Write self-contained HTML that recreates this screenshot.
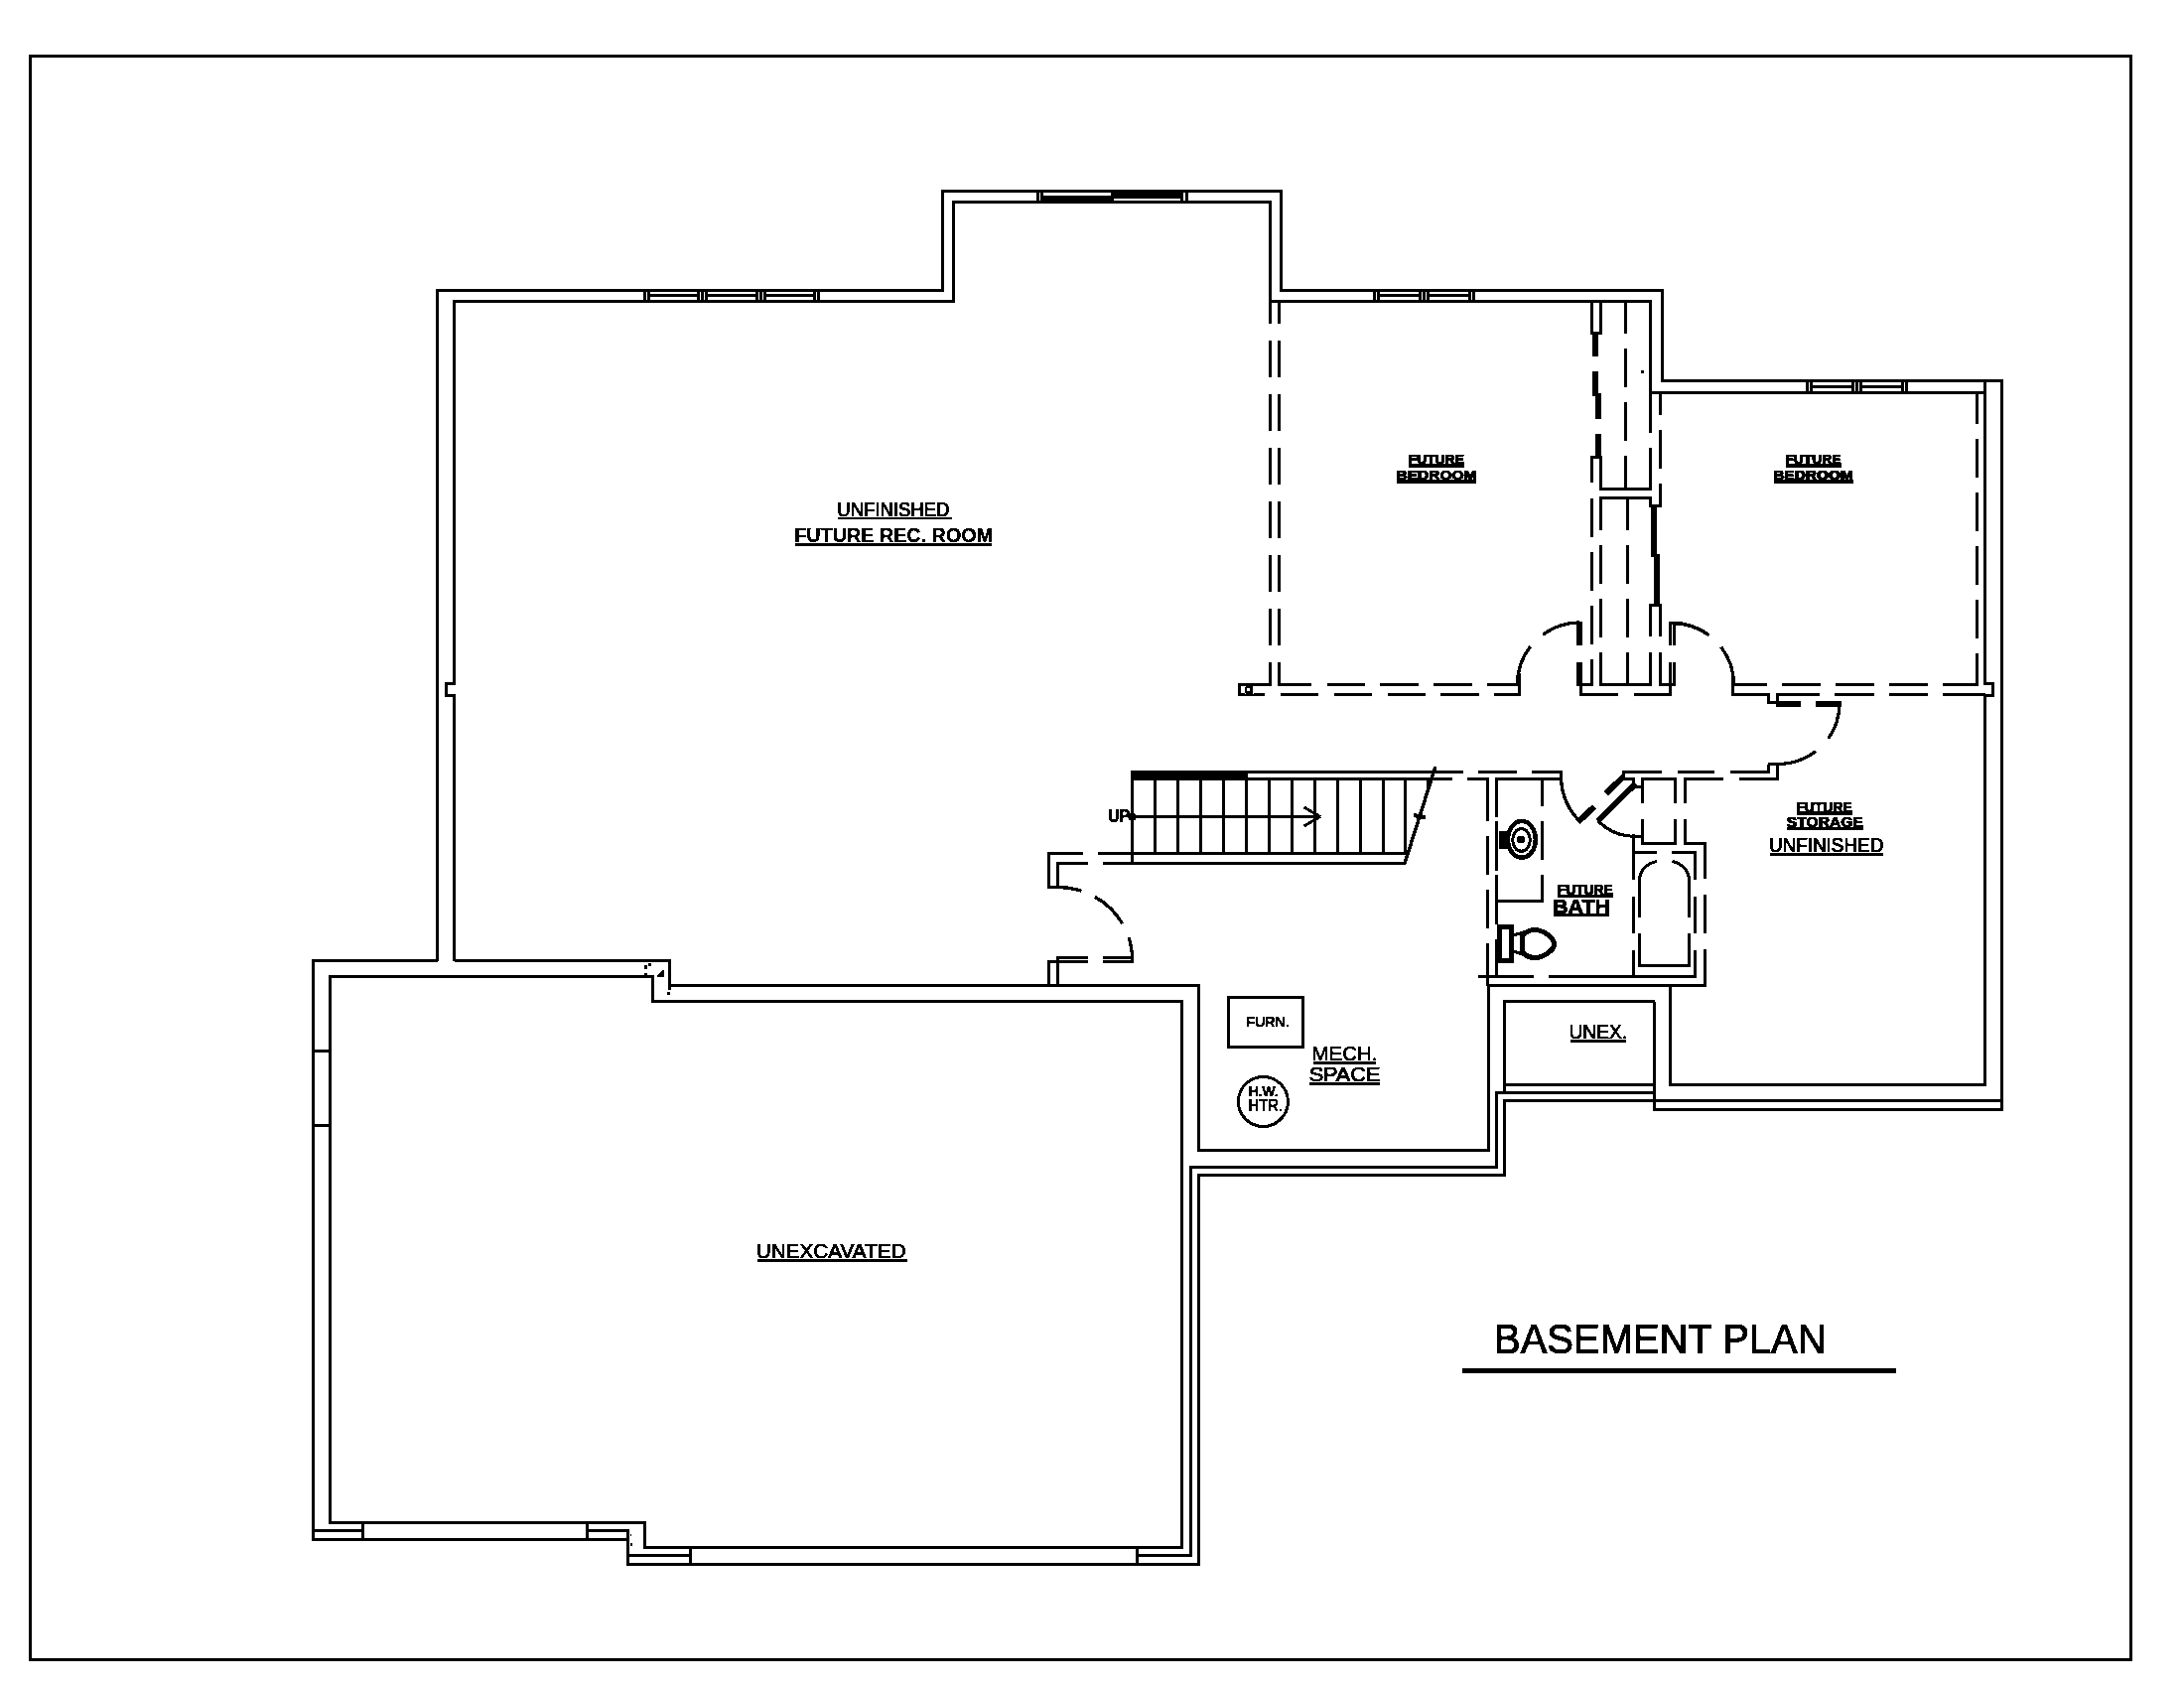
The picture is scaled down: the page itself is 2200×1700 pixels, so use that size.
<!DOCTYPE html>
<html><head><meta charset="utf-8"><title>Basement Plan</title>
<style>
html,body{margin:0;padding:0;background:#fff;}
body{width:2200px;height:1700px;overflow:hidden;font-family:"Liberation Sans",sans-serif;}
svg{display:block;position:absolute;left:0;top:0;}
</style></head><body>
<svg width="2200" height="1700" viewBox="0 0 2200 1700">
<defs><filter id="bin" x="0" y="0" width="2200" height="1700" filterUnits="userSpaceOnUse" color-interpolation-filters="sRGB"><feComponentTransfer><feFuncA type="discrete" tableValues="0 1"/></feComponentTransfer></filter></defs>
<rect x="0" y="0" width="2200" height="1700" fill="#fff"/>
<g fill="none" stroke="#000" stroke-width="3" stroke-linecap="butt" stroke-linejoin="miter" shape-rendering="crispEdges">
<path d="M30.5,56.5 L2146.5,56.5 L2146.5,1671.5 L30.5,1671.5 Z" stroke-width="3"/>
<path d="M440.5,967.5 L440.5,292.5 L949.5,292.5 L949.5,192.5 L1290.5,192.5 L1290.5,292.5 L1674.5,292.5 L1674.5,383.5 L2016.5,383.5 L2016.5,1117.5 L1666.5,1117.5 L1666.5,1008.5" stroke-width="3"/>
<path d="M457.5,967.5 L457.5,700.5 L449.5,700.5 L449.5,688.5 L457.5,688.5 L457.5,303.5 L960.5,303.5 L960.5,203.5 L1279.5,203.5 L1279.5,303.5 L1662.5,303.5 L1662.5,395.5" stroke-width="3"/>
<line x1="1662.5" y1="395.5" x2="1999.5" y2="395.5" stroke-width="3"/>
<path d="M1999.5,383.5 L1999.5,688.5 L2007.5,688.5 L2007.5,700.5 L1999.5,700.5 L1999.5,1092.5 L1682.5,1092.5 L1682.5,992.5" stroke-width="3"/>
<line x1="649.5" y1="292.5" x2="649.5" y2="303.5" stroke-width="3"/>
<line x1="653.5" y1="292.5" x2="653.5" y2="303.5" stroke-width="3"/>
<line x1="824.5" y1="292.5" x2="824.5" y2="303.5" stroke-width="3"/>
<line x1="820.5" y1="292.5" x2="820.5" y2="303.5" stroke-width="3"/>
<line x1="655" y1="297.5" x2="819" y2="297.5" stroke-width="3"/>
<line x1="703.5" y1="292.5" x2="703.5" y2="303.5" stroke-width="3"/>
<line x1="707.5" y1="292.5" x2="707.5" y2="303.5" stroke-width="3"/>
<line x1="711.5" y1="292.5" x2="711.5" y2="303.5" stroke-width="3"/>
<rect x="705.0" y="294.0" width="1.0" height="8.0" fill="#fff" stroke="none"/>
<rect x="709.0" y="294.0" width="1.0" height="8.0" fill="#fff" stroke="none"/>
<line x1="762.5" y1="292.5" x2="762.5" y2="303.5" stroke-width="3"/>
<line x1="766.5" y1="292.5" x2="766.5" y2="303.5" stroke-width="3"/>
<line x1="770.5" y1="292.5" x2="770.5" y2="303.5" stroke-width="3"/>
<rect x="764.0" y="294.0" width="1.0" height="8.0" fill="#fff" stroke="none"/>
<rect x="768.0" y="294.0" width="1.0" height="8.0" fill="#fff" stroke="none"/>
<rect x="651" y="294.0" width="1" height="8.0" fill="#fff" stroke="none"/>
<rect x="822" y="294.0" width="1" height="8.0" fill="#fff" stroke="none"/>
<line x1="1384.5" y1="292.5" x2="1384.5" y2="303.5" stroke-width="3"/>
<line x1="1388.5" y1="292.5" x2="1388.5" y2="303.5" stroke-width="3"/>
<line x1="1484.5" y1="292.5" x2="1484.5" y2="303.5" stroke-width="3"/>
<line x1="1480.5" y1="292.5" x2="1480.5" y2="303.5" stroke-width="3"/>
<line x1="1390" y1="297.5" x2="1479" y2="297.5" stroke-width="3"/>
<line x1="1430.5" y1="292.5" x2="1430.5" y2="303.5" stroke-width="3"/>
<line x1="1434.5" y1="292.5" x2="1434.5" y2="303.5" stroke-width="3"/>
<line x1="1438.5" y1="292.5" x2="1438.5" y2="303.5" stroke-width="3"/>
<rect x="1432.0" y="294.0" width="1.0" height="8.0" fill="#fff" stroke="none"/>
<rect x="1436.0" y="294.0" width="1.0" height="8.0" fill="#fff" stroke="none"/>
<rect x="1386" y="294.0" width="1" height="8.0" fill="#fff" stroke="none"/>
<rect x="1482" y="294.0" width="1" height="8.0" fill="#fff" stroke="none"/>
<line x1="1820.5" y1="383.5" x2="1820.5" y2="395.5" stroke-width="3"/>
<line x1="1824.5" y1="383.5" x2="1824.5" y2="395.5" stroke-width="3"/>
<line x1="1920.5" y1="383.5" x2="1920.5" y2="395.5" stroke-width="3"/>
<line x1="1916.5" y1="383.5" x2="1916.5" y2="395.5" stroke-width="3"/>
<line x1="1826" y1="389.5" x2="1915" y2="389.5" stroke-width="3"/>
<line x1="1866.5" y1="383.5" x2="1866.5" y2="395.5" stroke-width="3"/>
<line x1="1870.5" y1="383.5" x2="1870.5" y2="395.5" stroke-width="3"/>
<line x1="1874.5" y1="383.5" x2="1874.5" y2="395.5" stroke-width="3"/>
<rect x="1868.0" y="385.0" width="1.0" height="9.0" fill="#fff" stroke="none"/>
<rect x="1872.0" y="385.0" width="1.0" height="9.0" fill="#fff" stroke="none"/>
<rect x="1822" y="385.0" width="1" height="9.0" fill="#fff" stroke="none"/>
<rect x="1918" y="385.0" width="1" height="9.0" fill="#fff" stroke="none"/>
<line x1="1045.5" y1="192.5" x2="1045.5" y2="203.5" stroke-width="3"/>
<line x1="1049.5" y1="192.5" x2="1049.5" y2="203.5" stroke-width="3"/>
<line x1="1190.5" y1="192.5" x2="1190.5" y2="203.5" stroke-width="3"/>
<line x1="1195.5" y1="192.5" x2="1195.5" y2="203.5" stroke-width="3"/>
<rect x="1051" y="197" width="69" height="6" fill="#000" stroke="none"/>
<rect x="1119" y="193" width="70" height="7" fill="#000" stroke="none"/>
<rect x="1119" y="200" width="3" height="3" fill="#000" stroke="none"/>
<path d="M440.5,967.5 L315.5,967.5 L315.5,1550.5 L632.5,1550.5 L632.5,1575.5 L1207.5,1575.5 L1207.5,1183.5 L1515.5,1183.5 L1515.5,1108.5 L2016.5,1108.5" stroke-width="3"/>
<path d="M332.5,983.5 L657.5,983.5 L657.5,1008.5 L1190.5,1008.5 L1190.5,1558.5 L649.5,1558.5 L649.5,1533.5 L332.5,1533.5 Z" stroke-width="3"/>
<path d="M457.5,967.5 L674.5,967.5 L674.5,992.5 L1207.5,992.5 L1207.5,1158.5 L1499.5,1158.5 L1499.5,992.5" stroke-width="3"/>
<path d="M1145.5,1566.5 L1199.5,1566.5 L1199.5,1175.5 L1507.5,1175.5 L1507.5,1100.5 L1666.5,1100.5" stroke-width="3"/>
<line x1="1145.5" y1="1558.5" x2="1145.5" y2="1575.5" stroke-width="3"/>
<line x1="315.5" y1="1541.5" x2="365.5" y2="1541.5" stroke-width="3"/>
<line x1="365.5" y1="1533.5" x2="365.5" y2="1550.5" stroke-width="3"/>
<line x1="591.5" y1="1533.5" x2="591.5" y2="1550.5" stroke-width="3"/>
<path d="M591.5,1541.5 L632.5,1541.5 L632.5,1550.5" stroke-width="3"/>
<line x1="632.5" y1="1566.5" x2="695.5" y2="1566.5" stroke-width="3"/>
<line x1="695.5" y1="1558.5" x2="695.5" y2="1575.5" stroke-width="3"/>
<line x1="315.5" y1="1058.5" x2="332.5" y2="1058.5" stroke-width="3"/>
<line x1="315.5" y1="1133.5" x2="332.5" y2="1133.5" stroke-width="3"/>
<path d="M1515.5,1100.5 L1515.5,1008.5 L1666.5,1008.5" stroke-width="3"/>
<line x1="1515.5" y1="1092.5" x2="1666.5" y2="1092.5" stroke-width="3"/>
<line x1="1498" y1="992.5" x2="1719" y2="992.5" stroke-width="3"/>
<path d="M1237.5,1004.5 L1312.5,1004.5 L1312.5,1054.5 L1237.5,1054.5 Z" stroke-width="3"/>
<line x1="1140.5" y1="776" x2="1140.5" y2="871" stroke-width="3"/>
<rect x="1139" y="776" width="118" height="10" fill="#000" stroke="none"/>
<line x1="1257" y1="777.5" x2="1474" y2="777.5" stroke-width="3"/>
<line x1="1257" y1="784.5" x2="1463" y2="784.5" stroke-width="3"/>
<line x1="1163.5" y1="784.5" x2="1163.5" y2="859.5" stroke-width="3"/>
<line x1="1186.5" y1="784.5" x2="1186.5" y2="859.5" stroke-width="3"/>
<line x1="1209.5" y1="784.5" x2="1209.5" y2="859.5" stroke-width="3"/>
<line x1="1232.5" y1="784.5" x2="1232.5" y2="859.5" stroke-width="3"/>
<line x1="1255.5" y1="784.5" x2="1255.5" y2="859.5" stroke-width="3"/>
<line x1="1278.5" y1="784.5" x2="1278.5" y2="859.5" stroke-width="3"/>
<line x1="1301.5" y1="784.5" x2="1301.5" y2="859.5" stroke-width="3"/>
<line x1="1324.5" y1="784.5" x2="1324.5" y2="859.5" stroke-width="3"/>
<line x1="1347.5" y1="784.5" x2="1347.5" y2="859.5" stroke-width="3"/>
<line x1="1370.5" y1="784.5" x2="1370.5" y2="859.5" stroke-width="3"/>
<line x1="1393.5" y1="784.5" x2="1393.5" y2="859.5" stroke-width="3"/>
<line x1="1415.5" y1="784.5" x2="1415.5" y2="859.5" stroke-width="3"/>
<line x1="1106" y1="859.5" x2="1416" y2="859.5" stroke-width="3"/>
<line x1="1111" y1="869.5" x2="1415" y2="869.5" stroke-width="3"/>
<line x1="1140.5" y1="822.5" x2="1329" y2="822.5" stroke-width="3"/>
<path d="M1091,859.5 L1056.5,859.5 L1056.5,893.5 L1066,893.5" stroke-width="3"/>
<path d="M1096,869.5 L1065.5,869.5 L1065.5,893.5" stroke-width="3"/>
<path d="M1096,964.5 L1065.5,964.5 L1065.5,992.5" stroke-width="3"/>
<path d="M1096,968.5 L1056.5,968.5 L1056.5,992.5" stroke-width="3"/>
<line x1="1111" y1="964.5" x2="1142" y2="964.5" stroke-width="3"/>
<line x1="1111" y1="968.5" x2="1142" y2="968.5" stroke-width="3"/>
<line x1="1140.5" y1="960" x2="1140.5" y2="970" stroke-width="3"/>
<line x1="1279.5" y1="303.5" x2="1279.5" y2="326.4" stroke-width="3"/>
<line x1="1279.5" y1="342.6" x2="1279.5" y2="380.4" stroke-width="3"/>
<line x1="1279.5" y1="396.6" x2="1279.5" y2="434.4" stroke-width="3"/>
<line x1="1279.5" y1="450.6" x2="1279.5" y2="488.4" stroke-width="3"/>
<line x1="1279.5" y1="504.6" x2="1279.5" y2="542.4" stroke-width="3"/>
<line x1="1279.5" y1="558.6" x2="1279.5" y2="596.4" stroke-width="3"/>
<line x1="1279.5" y1="612.6" x2="1279.5" y2="650.4" stroke-width="3"/>
<line x1="1279.5" y1="666.6" x2="1279.5" y2="689.5" stroke-width="3"/>
<line x1="1288.5" y1="303.5" x2="1288.5" y2="326.4" stroke-width="3"/>
<line x1="1288.5" y1="342.6" x2="1288.5" y2="380.4" stroke-width="3"/>
<line x1="1288.5" y1="396.6" x2="1288.5" y2="434.4" stroke-width="3"/>
<line x1="1288.5" y1="450.6" x2="1288.5" y2="488.4" stroke-width="3"/>
<line x1="1288.5" y1="504.6" x2="1288.5" y2="542.4" stroke-width="3"/>
<line x1="1288.5" y1="558.6" x2="1288.5" y2="596.4" stroke-width="3"/>
<line x1="1288.5" y1="612.6" x2="1288.5" y2="650.4" stroke-width="3"/>
<line x1="1288.5" y1="666.6" x2="1288.5" y2="689.5" stroke-width="3"/>
<line x1="1247" y1="689.5" x2="1281" y2="689.5" stroke-width="3"/>
<line x1="1287" y1="689.5" x2="1320.8" y2="689.5" stroke-width="3"/>
<line x1="1336.5" y1="689.5" x2="1374.8" y2="689.5" stroke-width="3"/>
<line x1="1390.4" y1="689.5" x2="1428.7" y2="689.5" stroke-width="3"/>
<line x1="1444.3" y1="689.5" x2="1482.7" y2="689.5" stroke-width="3"/>
<line x1="1498.3" y1="689.5" x2="1532" y2="689.5" stroke-width="3"/>
<line x1="1247" y1="699.5" x2="1273.9" y2="699.5" stroke-width="3"/>
<line x1="1289.6" y1="699.5" x2="1327.9" y2="699.5" stroke-width="3"/>
<line x1="1343.6" y1="699.5" x2="1381.9" y2="699.5" stroke-width="3"/>
<line x1="1397.5" y1="699.5" x2="1435.8" y2="699.5" stroke-width="3"/>
<line x1="1451.4" y1="699.5" x2="1489.8" y2="699.5" stroke-width="3"/>
<line x1="1505.4" y1="699.5" x2="1532" y2="699.5" stroke-width="3"/>
<line x1="1248.5" y1="688" x2="1248.5" y2="701" stroke-width="3"/>
<rect x="1254" y="691" width="8" height="7" fill="#000" stroke="none"/>
<rect x="1256" y="693" width="3" height="3" fill="#fff" stroke="none"/>
<rect x="1253.5" y="690.5" width="1.0" height="1.0" fill="#fff" stroke="none"/>
<rect x="1261.5" y="690.5" width="1.0" height="1.0" fill="#fff" stroke="none"/>
<rect x="1253.5" y="697.5" width="1.0" height="1.0" fill="#fff" stroke="none"/>
<rect x="1261.5" y="697.5" width="1.0" height="1.0" fill="#fff" stroke="none"/>
<line x1="1530.5" y1="678" x2="1530.5" y2="701" stroke-width="3"/>
<path d="M1603.5,303.5 L1603.5,335.5 L1612.5,335.5 L1612.5,303.5" stroke-width="3"/>
<line x1="1607" y1="337" x2="1607" y2="358.6" stroke-width="6"/>
<line x1="1607" y1="374.2" x2="1607" y2="398.9" stroke-width="6"/>
<line x1="1610" y1="396.3" x2="1610" y2="421.5" stroke-width="6"/>
<line x1="1610" y1="437.1" x2="1610" y2="459.3" stroke-width="6"/>
<path d="M1603.5,486.4 L1603.5,460.5 L1612.5,460.5 L1612.5,492.5" stroke-width="3"/>
<line x1="1611" y1="492.5" x2="1664" y2="492.5" stroke-width="3"/>
<path d="M1612.5,533.7 L1612.5,501.5 L1662.5,501.5 L1662.5,509.5 L1672.5,509.5 L1672.5,486.8" stroke-width="3"/>
<line x1="1637.5" y1="303.5" x2="1637.5" y2="335.8" stroke-width="3"/>
<line x1="1637.5" y1="351" x2="1637.5" y2="389.8" stroke-width="3"/>
<line x1="1637.5" y1="405" x2="1637.5" y2="443.8" stroke-width="3"/>
<line x1="1637.5" y1="459" x2="1637.5" y2="492.5" stroke-width="3"/>
<line x1="1639.5" y1="501.5" x2="1639.5" y2="533.5" stroke-width="3"/>
<line x1="1639.5" y1="548.9" x2="1639.5" y2="587.5" stroke-width="3"/>
<line x1="1639.5" y1="602.9" x2="1639.5" y2="641.5" stroke-width="3"/>
<line x1="1639.5" y1="656.9" x2="1639.5" y2="690.5" stroke-width="3"/>
<line x1="1662.5" y1="395.5" x2="1662.5" y2="435.6" stroke-width="3"/>
<line x1="1662.5" y1="450.8" x2="1662.5" y2="492.5" stroke-width="3"/>
<line x1="1672.5" y1="397" x2="1672.5" y2="417.7" stroke-width="3"/>
<line x1="1672.5" y1="433" x2="1672.5" y2="471.7" stroke-width="3"/>
<line x1="1603.5" y1="502" x2="1603.5" y2="540.9" stroke-width="3"/>
<line x1="1603.5" y1="556" x2="1603.5" y2="594.9" stroke-width="3"/>
<line x1="1603.5" y1="610" x2="1603.5" y2="648.9" stroke-width="3"/>
<line x1="1603.5" y1="664" x2="1603.5" y2="690.5" stroke-width="3"/>
<line x1="1612.5" y1="548.9" x2="1612.5" y2="587.5" stroke-width="3"/>
<line x1="1612.5" y1="602.9" x2="1612.5" y2="641.5" stroke-width="3"/>
<line x1="1612.5" y1="656.9" x2="1612.5" y2="690.5" stroke-width="3"/>
<line x1="1666" y1="509.5" x2="1666" y2="560.8" stroke-width="6"/>
<line x1="1669" y1="558" x2="1669" y2="609.5" stroke-width="6"/>
<path d="M1662.5,641.3 L1662.5,609.5 L1672.5,609.5 L1672.5,641.3" stroke-width="3"/>
<line x1="1662.5" y1="657.3" x2="1662.5" y2="690.5" stroke-width="3"/>
<line x1="1672.5" y1="657.3" x2="1672.5" y2="690.5" stroke-width="3"/>
<line x1="1591" y1="689.5" x2="1604.5" y2="689.5" stroke-width="3"/>
<line x1="1611.5" y1="689.5" x2="1664" y2="689.5" stroke-width="3"/>
<line x1="1671.5" y1="689.5" x2="1688" y2="689.5" stroke-width="3"/>
<line x1="1591.5" y1="699.5" x2="1629.5" y2="699.5" stroke-width="3"/>
<line x1="1645.5" y1="699.5" x2="1683.5" y2="699.5" stroke-width="3"/>
<line x1="1592.5" y1="689.5" x2="1592.5" y2="701" stroke-width="3"/>
<line x1="1682.5" y1="689.5" x2="1682.5" y2="701" stroke-width="3"/>
<rect x="1653" y="373" width="3" height="3" fill="#000" stroke="none"/>
<line x1="1591" y1="626.5" x2="1591" y2="650.3" stroke-width="6"/>
<line x1="1591" y1="666.9" x2="1591" y2="690.5" stroke-width="6"/>
<line x1="1582" y1="627.5" x2="1594" y2="627.5" stroke-width="3"/>
<line x1="1682.5" y1="626.5" x2="1682.5" y2="650.3" stroke-width="3"/>
<line x1="1682.5" y1="666.9" x2="1682.5" y2="690.5" stroke-width="3"/>
<line x1="1686.5" y1="626.5" x2="1686.5" y2="650.3" stroke-width="3"/>
<line x1="1686.5" y1="666.9" x2="1686.5" y2="690.5" stroke-width="3"/>
<line x1="1681" y1="627.5" x2="1689" y2="627.5" stroke-width="3"/>
<line x1="1745.5" y1="678" x2="1745.5" y2="701" stroke-width="3"/>
<line x1="1991.5" y1="397" x2="1991.5" y2="427" stroke-width="3"/>
<line x1="1991.5" y1="442" x2="1991.5" y2="481" stroke-width="3"/>
<line x1="1991.5" y1="496" x2="1991.5" y2="535" stroke-width="3"/>
<line x1="1991.5" y1="550" x2="1991.5" y2="589" stroke-width="3"/>
<line x1="1991.5" y1="604" x2="1991.5" y2="643" stroke-width="3"/>
<line x1="1991.5" y1="658" x2="1991.5" y2="690.5" stroke-width="3"/>
<line x1="1745.5" y1="689.5" x2="1780" y2="689.5" stroke-width="3"/>
<line x1="1795" y1="689.5" x2="1834" y2="689.5" stroke-width="3"/>
<line x1="1849.3" y1="689.5" x2="1888" y2="689.5" stroke-width="3"/>
<line x1="1903" y1="689.5" x2="1942" y2="689.5" stroke-width="3"/>
<line x1="1957" y1="689.5" x2="1993" y2="689.5" stroke-width="3"/>
<path d="M1744,699.5 L1781.5,699.5 L1781.5,707.5 L1790.5,707.5" stroke-width="3"/>
<path d="M1790.5,712 L1790.5,699.5 L1832.8,699.5" stroke-width="3"/>
<line x1="1848.2" y1="699.5" x2="1888" y2="699.5" stroke-width="3"/>
<line x1="1903" y1="699.5" x2="1941.7" y2="699.5" stroke-width="3"/>
<line x1="1957" y1="699.5" x2="2000" y2="699.5" stroke-width="3"/>
<line x1="1789.5" y1="709" x2="1814" y2="709" stroke-width="6"/>
<line x1="1829" y1="709" x2="1854.7" y2="709" stroke-width="6"/>
<path d="M1780.5,769.5 L1791.6,769.5" stroke-width="3"/>
<path d="M1743,777.5 L1781.5,777.5 L1781.5,769.5" stroke-width="3"/>
<path d="M1751.6,784.5 L1790.5,784.5 L1790.5,769.5" stroke-width="3"/>
<line x1="1489.2" y1="777.5" x2="1528" y2="777.5" stroke-width="3"/>
<line x1="1543.1" y1="777.5" x2="1574" y2="777.5" stroke-width="3"/>
<line x1="1634" y1="777.5" x2="1673.6" y2="777.5" stroke-width="3"/>
<line x1="1689.6" y1="777.5" x2="1727.3" y2="777.5" stroke-width="3"/>
<line x1="1478.1" y1="784.5" x2="1500" y2="784.5" stroke-width="3"/>
<line x1="1506" y1="784.5" x2="1572.5" y2="784.5" stroke-width="3"/>
<line x1="1636.3" y1="784.5" x2="1647" y2="784.5" stroke-width="3"/>
<line x1="1653" y1="784.5" x2="1688.8" y2="784.5" stroke-width="3"/>
<line x1="1697" y1="784.5" x2="1735.5" y2="784.5" stroke-width="3"/>
<line x1="1498.5" y1="783" x2="1498.5" y2="826.8" stroke-width="3"/>
<line x1="1498.5" y1="842.2" x2="1498.5" y2="880.9" stroke-width="3"/>
<line x1="1498.5" y1="896.2" x2="1498.5" y2="934.7" stroke-width="3"/>
<line x1="1498.5" y1="950.1" x2="1498.5" y2="992.5" stroke-width="3"/>
<line x1="1507.5" y1="783" x2="1507.5" y2="822.8" stroke-width="3"/>
<line x1="1507.5" y1="826.8" x2="1507.5" y2="877.1" stroke-width="3"/>
<line x1="1507.5" y1="881.1" x2="1507.5" y2="930.6" stroke-width="3"/>
<line x1="1507.5" y1="946" x2="1507.5" y2="983.5" stroke-width="3"/>
<line x1="1553.5" y1="786" x2="1553.5" y2="811.9" stroke-width="3"/>
<line x1="1553.5" y1="826.8" x2="1553.5" y2="865.9" stroke-width="3"/>
<line x1="1553.5" y1="881.1" x2="1553.5" y2="907.5" stroke-width="3"/>
<line x1="1506" y1="907.5" x2="1555" y2="907.5" stroke-width="3"/>
<path d="M1572.5,776 L1572.5,786" stroke-width="3"/>
<path d="M1635.5,776 L1635.5,784.5" stroke-width="3"/>
<path d="M1645.5,784.5 L1645.5,792.5 L1654,792.5" stroke-width="3"/>
<line x1="1644" y1="842.5" x2="1654" y2="842.5" stroke-width="3"/>
<line x1="1654.5" y1="783" x2="1654.5" y2="809.4" stroke-width="3"/>
<line x1="1654.5" y1="825" x2="1654.5" y2="850.7" stroke-width="3"/>
<line x1="1687.5" y1="783" x2="1687.5" y2="809.4" stroke-width="3"/>
<line x1="1687.5" y1="825" x2="1687.5" y2="850.7" stroke-width="3"/>
<line x1="1653" y1="849.5" x2="1689" y2="849.5" stroke-width="3"/>
<line x1="1697.5" y1="783" x2="1697.5" y2="809.4" stroke-width="3"/>
<line x1="1697.5" y1="825" x2="1697.5" y2="850.7" stroke-width="3"/>
<line x1="1696" y1="849.5" x2="1719" y2="849.5" stroke-width="3"/>
<line x1="1717.5" y1="849.5" x2="1717.5" y2="884.8" stroke-width="3"/>
<line x1="1717.5" y1="901" x2="1717.5" y2="939.5" stroke-width="3"/>
<line x1="1717.5" y1="955.8" x2="1717.5" y2="992.5" stroke-width="3"/>
<line x1="1645.5" y1="840" x2="1645.5" y2="886.2" stroke-width="3"/>
<line x1="1645.5" y1="902.5" x2="1645.5" y2="940.3" stroke-width="3"/>
<line x1="1645.5" y1="956.6" x2="1645.5" y2="984" stroke-width="3"/>
<line x1="1645.5" y1="858.5" x2="1669" y2="858.5" stroke-width="3"/>
<line x1="1684.4" y1="858.5" x2="1709" y2="858.5" stroke-width="3"/>
<line x1="1707.5" y1="858.5" x2="1707.5" y2="886" stroke-width="3"/>
<line x1="1707.5" y1="902.5" x2="1707.5" y2="940.3" stroke-width="3"/>
<line x1="1707.5" y1="956.6" x2="1707.5" y2="984" stroke-width="3"/>
<line x1="1489.2" y1="983.5" x2="1545.3" y2="983.5" stroke-width="3"/>
<line x1="1559.6" y1="983.5" x2="1709" y2="983.5" stroke-width="3"/>
<line x1="1651.5" y1="886.2" x2="1651.5" y2="924" stroke-width="3"/>
<line x1="1651.5" y1="940.3" x2="1651.5" y2="973" stroke-width="3"/>
<line x1="1701.5" y1="886.2" x2="1701.5" y2="924" stroke-width="3"/>
<line x1="1701.5" y1="940.3" x2="1701.5" y2="973" stroke-width="3"/>
<line x1="1650" y1="972.5" x2="1703" y2="972.5" stroke-width="3"/>
<rect x="1510" y="837" width="10" height="18" fill="#000" stroke="none"/>
<path d="M1510.5,933.5 L1522.5,933.5 L1522.5,967.5 L1510.5,967.5 Z" stroke-width="5"/>
<line x1="1682.5" y1="992.5" x2="1682.5" y2="1092.5" stroke-width="3"/>
<rect x="649" y="972" width="3" height="4" fill="#000" stroke="none"/>
<rect x="653" y="970" width="3" height="3" fill="#000" stroke="none"/>
<rect x="649" y="980" width="3" height="2" fill="#000" stroke="none"/>
<rect x="673" y="994" width="3" height="3" fill="#000" stroke="none"/>
<rect x="672" y="999" width="3" height="3" fill="#000" stroke="none"/>
<rect x="635" y="1545" width="1" height="2" fill="#000" stroke="none"/>
<rect x="635" y="1554" width="2" height="3" fill="#000" stroke="none"/>
<line x1="1473" y1="1380.5" x2="1910" y2="1380.5" stroke-width="5"/>
<line x1="844.3" y1="522" x2="958.6" y2="522" stroke-width="2"/>
<line x1="801.4" y1="548.5" x2="999.2" y2="548.5" stroke-width="3"/>
<line x1="1419" y1="468.75" x2="1475" y2="468.75" stroke-width="4.5"/>
<line x1="1407" y1="484.75" x2="1487" y2="484.75" stroke-width="4.5"/>
<line x1="1798.6" y1="468.75" x2="1854.6" y2="468.75" stroke-width="4.5"/>
<line x1="1786.6" y1="484.75" x2="1866.6" y2="484.75" stroke-width="4.5"/>
<line x1="1809.7" y1="818.9" x2="1865.8" y2="818.9" stroke-width="3.6"/>
<line x1="1799.8" y1="834.5" x2="1876.7" y2="834.5" stroke-width="3"/>
<line x1="1782.8" y1="860.5" x2="1897" y2="860.5" stroke-width="3"/>
<line x1="1569" y1="902.2" x2="1625" y2="902.2" stroke-width="3.4"/>
<line x1="1565" y1="921.4" x2="1621" y2="921.4" stroke-width="3"/>
<line x1="1322.9" y1="1070.5" x2="1385.9" y2="1070.5" stroke-width="2.5"/>
<line x1="1319.1" y1="1091.4" x2="1390" y2="1091.4" stroke-width="3"/>
<line x1="1581.6" y1="1048.9" x2="1637.7" y2="1048.9" stroke-width="3"/>
<line x1="762.8" y1="1269.4" x2="914.1" y2="1269.4" stroke-width="3"/>
</g>
<g fill="none" stroke="#000" stroke-width="3" stroke-linecap="butt" stroke-linejoin="miter" filter="url(#bin)">
<ellipse cx="1272.4" cy="1109.4" rx="25" ry="25" stroke-width="3" fill="none"/>
<line x1="1313.5" y1="813" x2="1330" y2="822.5" stroke-width="3"/>
<line x1="1313.5" y1="832" x2="1330" y2="822.5" stroke-width="3"/>
<line x1="1446" y1="772" x2="1414.5" y2="871" stroke-width="3.5"/>
<line x1="1424" y1="821" x2="1436" y2="823.5" stroke-width="4"/>
<path d="M1437,786 L1441.5,786 L1437.5,797 Z" fill="#000" stroke="none"/>
<path d="M1065.50,893.50 A75,72.5 0 0 1 1140.50,966.00" stroke-width="3.3" stroke-dasharray="24.2 14.9 39.1 14.8 40"/>
<ellipse cx="1140.5" cy="822.5" rx="3.6" ry="3.6" stroke-width="1.5" fill="#000"/>
<path d="M1591.00,627.00 A62.5,62.5 0 0 0 1528.50,689.50" stroke-width="3.3" stroke-dasharray="39.5 17 200"/>
<path d="M1684.50,627.50 A62,62 0 0 1 1746.50,689.50" stroke-width="3.3" stroke-dasharray="39.5 17 200"/>
<path d="M1852.90,709.00 A62.4,60.5 0 0 1 1790.50,769.50" stroke-width="3.3" stroke-dasharray="37 18 200"/>
<path d="M1572.65,786.43 A63.5,63.5 0 0 0 1591.10,826.90" stroke-width="3.3"/>
<line x1="1635.3" y1="782.2" x2="1617.6" y2="799.3" stroke-width="6"/>
<line x1="1606" y1="812.4" x2="1589.5" y2="828" stroke-width="6"/>
<line x1="1647.4" y1="789.3" x2="1609.6" y2="827" stroke-width="6"/>
<path d="M1609.88,826.92 A52.5,52.5 0 0 0 1647.00,842.30" stroke-width="3.3"/>
<path d="M1651.5,886.5 C1651.5,876 1660,869 1669,867.5" stroke-width="3"/>
<path d="M1701.5,886.5 C1701.5,876 1693,869 1684.5,867.5" stroke-width="3"/>
<ellipse cx="1532.9" cy="845.4" rx="13.9" ry="18.3" stroke-width="4.5" fill="none"/>
<ellipse cx="1532.5" cy="845.9" rx="8.8" ry="11.4" stroke-width="3" fill="none"/>
<ellipse cx="1532" cy="845.5" rx="4" ry="3.5" stroke-width="0.5" fill="#000"/>
<path d="M1533.5,943 C1537,938 1541,936.5 1546,936.5 C1555,936.5 1565.5,945 1565.5,951 C1565.5,957 1555,964.5 1546.5,964.5 C1541,964.5 1537,963 1533.5,959 Z" stroke-width="5" stroke-linejoin="round"/>
<line x1="1524" y1="942" x2="1536" y2="938.5" stroke-width="3"/>
<line x1="1524" y1="958" x2="1535" y2="961.5" stroke-width="3"/>
<path d="M662,983 L667,977 L668.5,977 L669,983.5 L663,984 Z" fill="#000" stroke="none"/>
</g>
<g filter="url(#bin)">
<text transform="translate(843.36,519.75) scale(0.0925,0.1007)" x="0" y="0" font-family="'Liberation Sans', sans-serif" font-weight="normal" font-size="200" fill="#000" stroke="#000" stroke-width="9.32" stroke-linejoin="round">UNFINISHED</text>
<text transform="translate(800.26,546.45) scale(0.0989,0.1014)" x="0" y="0" font-family="'Liberation Sans', sans-serif" font-weight="bold" font-size="200" fill="#000" stroke="#000" stroke-width="2.99" stroke-linejoin="round">FUTURE REC. ROOM</text>
<text transform="translate(1418.70,466.90) scale(0.0693,0.0674)" x="0" y="0" font-family="'Liberation Sans', sans-serif" font-weight="bold" font-size="200" fill="#000" stroke="#000" stroke-width="17.56" stroke-linejoin="round">FUTURE</text>
<text transform="translate(1406.59,482.90) scale(0.0774,0.0674)" x="0" y="0" font-family="'Liberation Sans', sans-serif" font-weight="bold" font-size="200" fill="#000" stroke="#000" stroke-width="16.57" stroke-linejoin="round">BEDROOM</text>
<text transform="translate(1798.30,466.90) scale(0.0693,0.0674)" x="0" y="0" font-family="'Liberation Sans', sans-serif" font-weight="bold" font-size="200" fill="#000" stroke="#000" stroke-width="17.56" stroke-linejoin="round">FUTURE</text>
<text transform="translate(1786.19,482.90) scale(0.0774,0.0674)" x="0" y="0" font-family="'Liberation Sans', sans-serif" font-weight="bold" font-size="200" fill="#000" stroke="#000" stroke-width="16.57" stroke-linejoin="round">BEDROOM</text>
<text transform="translate(1809.29,817.50) scale(0.0697,0.0732)" x="0" y="0" font-family="'Liberation Sans', sans-serif" font-weight="bold" font-size="200" fill="#000" stroke="#000" stroke-width="14.00" stroke-linejoin="round">FUTURE</text>
<text transform="translate(1799.83,832.50) scale(0.0781,0.0732)" x="0" y="0" font-family="'Liberation Sans', sans-serif" font-weight="bold" font-size="200" fill="#000" stroke="#000" stroke-width="13.22" stroke-linejoin="round">STORAGE</text>
<text transform="translate(1781.88,858.30) scale(0.0945,0.1000)" x="0" y="0" font-family="'Liberation Sans', sans-serif" font-weight="normal" font-size="200" fill="#000" stroke="#000" stroke-width="10.28" stroke-linejoin="round">UNFINISHED</text>
<text transform="translate(1568.70,900.80) scale(0.0693,0.0739)" x="0" y="0" font-family="'Liberation Sans', sans-serif" font-weight="bold" font-size="200" fill="#000" stroke="#000" stroke-width="16.76" stroke-linejoin="round">FUTURE</text>
<text transform="translate(1564.00,919.50) scale(0.1074,0.1014)" x="0" y="0" font-family="'Liberation Sans', sans-serif" font-weight="bold" font-size="200" fill="#000" stroke="#000" stroke-width="7.66" stroke-linejoin="round">BATH</text>
<text transform="translate(1321.62,1068.45) scale(0.1021,0.1036)" x="0" y="0" font-family="'Liberation Sans', sans-serif" font-weight="normal" font-size="200" fill="#000" stroke="#000" stroke-width="6.80" stroke-linejoin="round">MECH.</text>
<text transform="translate(1318.63,1089.00) scale(0.1082,0.0978)" x="0" y="0" font-family="'Liberation Sans', sans-serif" font-weight="normal" font-size="200" fill="#000" stroke="#000" stroke-width="9.71" stroke-linejoin="round">SPACE</text>
<text transform="translate(1580.51,1046.35) scale(0.0958,0.0978)" x="0" y="0" font-family="'Liberation Sans', sans-serif" font-weight="normal" font-size="200" fill="#000" stroke="#000" stroke-width="7.23" stroke-linejoin="round">UNEX.</text>
<text transform="translate(1255.52,1034.25) scale(0.0708,0.0775)" x="0" y="0" font-family="'Liberation Sans', sans-serif" font-weight="normal" font-size="200" fill="#000" stroke="#000" stroke-width="14.83" stroke-linejoin="round">FURN.</text>
<text transform="translate(1257.65,1104.25) scale(0.0689,0.0761)" x="0" y="0" font-family="'Liberation Sans', sans-serif" font-weight="normal" font-size="200" fill="#000" stroke="#000" stroke-width="15.17" stroke-linejoin="round">H.W.</text>
<text transform="translate(1257.58,1119.25) scale(0.0734,0.0797)" x="0" y="0" font-family="'Liberation Sans', sans-serif" font-weight="normal" font-size="200" fill="#000" stroke="#000" stroke-width="14.37" stroke-linejoin="round">HTR.</text>
<text transform="translate(1116.25,827.60) scale(0.0788,0.0957)" x="0" y="0" font-family="'Liberation Sans', sans-serif" font-weight="bold" font-size="200" fill="#000" stroke="#000" stroke-width="6.88" stroke-linejoin="round">UP</text>
<text transform="translate(761.70,1267.15) scale(0.1036,0.1007)" x="0" y="0" font-family="'Liberation Sans', sans-serif" font-weight="normal" font-size="200" fill="#000" stroke="#000" stroke-width="8.81" stroke-linejoin="round">UNEXCAVATED</text>
<text transform="translate(1505.00,1363.50) scale(0.1999,0.2130)" x="0" y="0" font-family="'Liberation Sans', sans-serif" font-weight="normal" font-size="200" fill="#000" stroke="#000" stroke-width="4.84" stroke-linejoin="round">BASEMENT PLAN</text>
</g>
</svg>
</body></html>
